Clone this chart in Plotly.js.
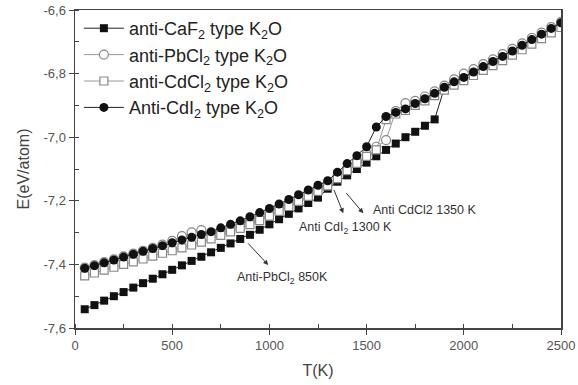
<!DOCTYPE html>
<html>
<head>
<meta charset="utf-8">
<script src="https://cdn.plot.ly/plotly-3.0.1.min.js"></script>
<style>html,body{margin:0;padding:0;background:#fff;}#chart{width:578px;height:385px;}</style>
</head>
<body>
<div id="chart"></div>
<script>
// Temperature (K)
const temps = [50,100,150,200,250,300,350,400,450,500,550,600,650,700,750,800,850,900,950,1000,
  1050,1100,1150,1200,1250,1300,1350,1400,1450,1500,1550,1600,1650,1700,1750,1800,1850,1900,1950,2000,
  2050,2100,2150,2200,2250,2300,2350,2400,2450,2500];

// anti-CaF2 type K2O
const eCaF2 = [-7.541,-7.528,-7.514,-7.500,-7.487,-7.473,-7.459,-7.445,-7.431,-7.417,
  -7.403,-7.389,-7.376,-7.362,-7.348,-7.334,-7.320,-7.307,-7.291,-7.274,
  -7.258,-7.241,-7.224,-7.207,-7.190,-7.162,-7.140,-7.120,-7.100,-7.080,
  -7.060,-7.040,-7.020,-7.000,-6.983,-6.964,-6.944,-6.845,-6.828,-6.813,
  -6.797,-6.780,-6.764,-6.748,-6.731,-6.713,-6.695,-6.678,-6.660,-6.642];

// anti-PbCl2 type K2O
const ePbCl2 = [-7.410,-7.402,-7.393,-7.384,-7.375,-7.366,-7.357,-7.348,-7.338,-7.326,
  -7.311,-7.299,-7.292,-7.303,-7.294,-7.284,-7.274,-7.263,-7.250,-7.236,
  -7.222,-7.207,-7.192,-7.176,-7.160,-7.146,-7.124,-7.100,-7.077,-7.053,
  -7.030,-7.009,-6.918,-6.893,-6.886,-6.872,-6.856,-6.838,-6.818,-6.800,
  -6.786,-6.770,-6.755,-6.739,-6.722,-6.705,-6.688,-6.671,-6.654,-6.637];

// anti-CdCl2 type K2O
const eCdCl2 = [-7.436,-7.427,-7.418,-7.409,-7.400,-7.392,-7.383,-7.374,-7.365,-7.357,
  -7.348,-7.339,-7.330,-7.320,-7.309,-7.298,-7.287,-7.275,-7.262,-7.248,
  -7.233,-7.218,-7.202,-7.186,-7.170,-7.153,-7.130,-7.105,-7.082,-7.060,
  -7.040,-6.945,-6.927,-6.916,-6.900,-6.886,-6.869,-6.852,-6.836,-6.822,
  -6.806,-6.790,-6.775,-6.759,-6.742,-6.725,-6.707,-6.690,-6.672,-6.655];

// Anti-CdI2 type K2O
const eCdI2 = [-7.412,-7.404,-7.395,-7.386,-7.377,-7.368,-7.359,-7.350,-7.341,-7.332,
  -7.323,-7.315,-7.306,-7.297,-7.285,-7.274,-7.263,-7.250,-7.237,-7.224,
  -7.210,-7.196,-7.181,-7.166,-7.151,-7.137,-7.110,-7.083,-7.058,-7.030,
  -6.968,-6.935,-6.922,-6.911,-6.894,-6.879,-6.862,-6.843,-6.826,-6.812,
  -6.795,-6.778,-6.762,-6.746,-6.729,-6.711,-6.693,-6.676,-6.658,-6.640];

const seriesNames = ['anti-CaF<sub>2</sub> type K<sub>2</sub>O','anti-PbCl<sub>2</sub> type K<sub>2</sub>O',
  'anti-CdCl<sub>2</sub> type K<sub>2</sub>O','Anti-CdI<sub>2</sub> type K<sub>2</sub>O'];

const xTickVals = [0,500,1000,1500,2000,2500];
const yTickVals = [-7.6,-7.4,-7.2,-7.0,-6.8,-6.6];
const yTickText = ['-7,6','-7,4','-7,2','-7,0','-6,8','-6,6'];

// annotation texts and anchor values [T, E]
const annTexts = ['Anti-PbCl<sub>2</sub> 850K','Anti CdI<sub>2</sub> 1300 K','Anti CdCl2 1350 K'];
const annLabelPos = [[825,-7.443],[1140,-7.286],[1522,-7.229]];
const annArrowTail = [[883,-7.329],[1329,-7.161],[1389,-7.171]];
const annArrowHead = [[994,-7.402],[1380,-7.239],[1483,-7.239]];

const traces = [
  {x: temps, y: eCaF2, name: seriesNames[0], mode:'lines+markers',
   line:{color:'#222', width:1}, marker:{symbol:'square', size:8, color:'#111', line:{width:0}}},
  {x: temps, y: ePbCl2, name: seriesNames[1], mode:'lines+markers',
   line:{color:'#999', width:1}, marker:{symbol:'circle', size:9, color:'#fff', line:{color:'#888', width:1.2}}},
  {x: temps, y: eCdCl2, name: seriesNames[2], mode:'lines+markers',
   line:{color:'#999', width:1}, marker:{symbol:'square', size:8, color:'#fff', line:{color:'#888', width:1.2}}},
  {x: temps, y: eCdI2, name: seriesNames[3], mode:'lines+markers',
   line:{color:'#222', width:1}, marker:{symbol:'circle', size:9, color:'#111', line:{width:0}}}
];

const annotations = [];
for (let i = 0; i < annTexts.length; i++) {
  annotations.push({x: annArrowHead[i][0], y: annArrowHead[i][1], ax: annArrowTail[i][0], ay: annArrowTail[i][1],
    xref:'x', yref:'y', axref:'x', ayref:'y', text:'', showarrow:true,
    arrowhead:2, arrowsize:1, arrowwidth:1, arrowcolor:'#333'});
  annotations.push({x: annLabelPos[i][0], y: annLabelPos[i][1], xref:'x', yref:'y',
    xanchor:'left', yanchor:'middle', text: annTexts[i], showarrow:false,
    font:{family:'Liberation Sans, Arial, sans-serif', size:12.5, color:'#333'}});
}

const layout = {
  width:578, height:385,
  margin:{l:75, r:17, t:10, b:57},
  paper_bgcolor:'#fff', plot_bgcolor:'#fff',
  font:{family:'Liberation Sans, Arial, sans-serif', color:'#444'},
  showlegend:true,
  legend:{x:0.008, y:1.0, xanchor:'left', yanchor:'top', bgcolor:'rgba(0,0,0,0)',
    font:{size:18, color:'#222'}, tracegroupgap:0, itemwidth:40},
  xaxis:{range:[0,2500], tickvals:xTickVals, ticks:'outside', ticklen:5, tickcolor:'#444',
    showline:true, linecolor:'#444', linewidth:1.5, mirror:true, showgrid:false, zeroline:false,
    tickfont:{size:13, color:'#555'},
    minor:{dtick:250, ticks:'inside', ticklen:4, tickcolor:'#444', showgrid:false},
    title:{text:'T(K)', font:{size:16, color:'#444'}, standoff:12}},
  yaxis:{range:[-7.6,-6.6], tickvals:yTickVals, ticktext:yTickText, ticks:'outside', ticklen:5, tickcolor:'#444',
    showline:true, linecolor:'#444', linewidth:1.5, mirror:true, showgrid:false, zeroline:false,
    tickfont:{size:13, color:'#555'},
    minor:{dtick:0.1, ticks:'inside', ticklen:4, tickcolor:'#444', showgrid:false},
    title:{text:'E(eV/atom)', font:{size:16, color:'#444'}, standoff:10}},
  annotations: annotations
};

Plotly.newPlot('chart', traces, layout, {displayModeBar:false, staticPlot:true});
</script>
</body>
</html>
